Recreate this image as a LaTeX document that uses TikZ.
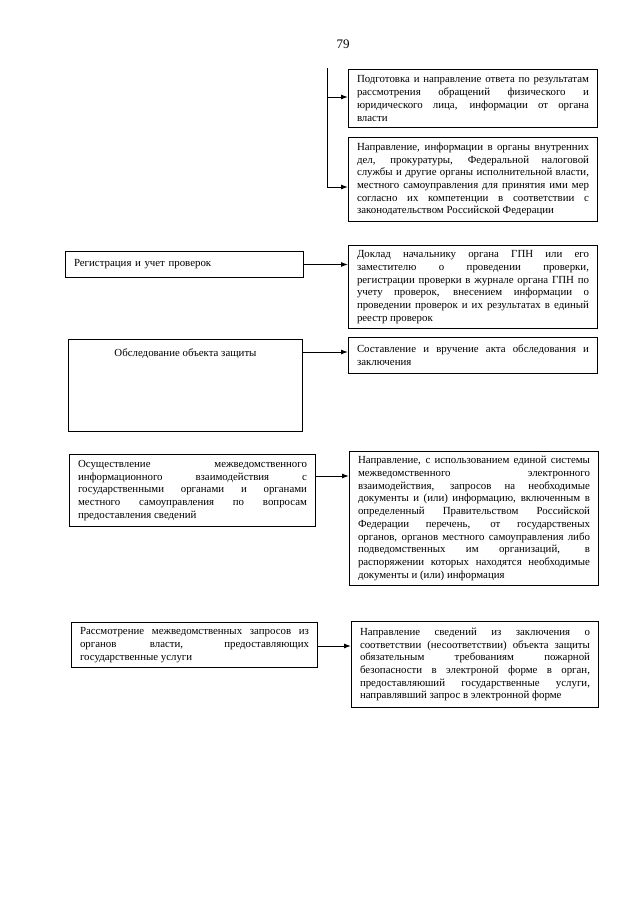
\documentclass[tikz,border=0pt]{standalone}
\usepackage{fontspec}
\setmainfont{Liberation Serif}
\usetikzlibrary{arrows.meta}
\tikzset{
  every node/.style={font=\fontsize{10.85}{12.7}\selectfont},
  box/.style={draw=black, line width=1pt, anchor=north west, inner xsep=8.5pt, inner ysep=3pt,
    align=justify, execute at begin node={\hyphenpenalty=10000\tolerance=10000\emergencystretch=20pt}},
  arr/.style={draw=black, line width=1pt, -{Latex[length=7pt,width=5pt]}},
  plain/.style={draw=black, line width=1pt}
}
\begin{document}
\begin{tikzpicture}[x=1pt,y=-1pt]
\useasboundingbox[fill=white] (0,0) rectangle (640,905);
\node[font=\fontsize{13}{15}\selectfont] (pg) at (343,44) {79};

\node[box, text width=232pt, minimum width=249pt, minimum height=58pt] (b1) at (348,69)
{Подготовка и направление ответа по результатам\linebreak
рассмотрения обращений физического и\linebreak
юридического лица, информации от органа\linebreak
власти};

\node[box, text width=232pt, minimum width=249pt, minimum height=84pt] (b2) at (348,137)
{Направление, информации в органы внутренних\linebreak
дел, прокуратуры, Федеральной налоговой\linebreak
службы и другие органы исполнительной власти,\linebreak
местного самоуправления для принятия ими мер\linebreak
согласно их компетенции в соответствии с\linebreak
законодательством Российской Федерации};

\coordinate (top) at (327,68);
\coordinate (j1) at (327,97);
\coordinate (j2) at (327,187);
\draw[plain] (top) -- (j2);
\draw[arr] (j1) -- (j1 -| b1.west);
\draw[arr] (j2) -- (j2 -| b2.west);

\node[box, align=left, text width=221pt, minimum width=238pt, minimum height=26pt] (b3) at (65,251)
{Регистрация и учет проверок};

\node[box, text width=232pt, minimum width=249pt, minimum height=83pt] (b4) at (348,245)
{Доклад начальнику органа ГПН или его\linebreak
заместителю о проведении проверки,\linebreak
регистрации проверки в журнале органа ГПН по\linebreak
учету проверок, внесением информации о\linebreak
проведении проверок и их результатах в единый\linebreak
реестр проверок};
\draw[arr] (b3.east) -- (b3.east -| b4.west);

\node[box, minimum width=234pt, minimum height=92pt] (b5) at (68,339) {};
\node[anchor=north] (b5t) at ([yshift=-6pt]b5.north) {Обследование объекта защиты};

\node[box, text width=232pt, minimum width=249pt, minimum height=36pt] (b6) at (348,337)
{Составление и вручение акта обследования и\linebreak
заключения};
\coordinate (a5) at (302,352);
\draw[arr] (a5) -- (a5 -| b6.west);

\node[box, text width=229pt, minimum width=246pt, minimum height=72pt] (b7) at (69,454)
{Осуществление межведомственного\linebreak
информационного взаимодействия с\linebreak
государственными органами и органами\linebreak
местного самоуправления по вопросам\linebreak
предоставления сведений};

\node[box, text width=232pt, minimum width=249pt, minimum height=134pt] (b8) at (349,451)
{Направление, с использованием единой системы\linebreak
межведомственного электронного\linebreak
взаимодействия, запросов на необходимые\linebreak
документы и (или) информацию, включенным в\linebreak
определенный Правительством Российской\linebreak
Федерации перечень, от государственых\linebreak
органов, органов местного самоуправления либо\linebreak
подведомственных им организаций, в\linebreak
распоряжении которых находятся необходимые\linebreak
документы и (или) информация};
\coordinate (a7) at (315,476);
\draw[arr] (a7) -- (a7 -| b8.west);

\node[box, text width=229pt, minimum width=246pt, minimum height=45pt] (b9) at (71,622)
{Рассмотрение межведомственных запросов из\linebreak
органов власти, предоставляющих\linebreak
государственные услуги};

\node[box, text width=230pt, minimum width=247pt, minimum height=86pt] (b10) at (351,621)
{Направление сведений из заключения о\linebreak
соответствии (несоответствии) объекта защиты\linebreak
обязательным требованиям пожарной\linebreak
безопасности в электроной форме в орган,\linebreak
предоставляюший государственные услуги,\linebreak
направлявший запрос в электронной форме};
\coordinate (a9) at (317,646);
\draw[arr] (a9) -- (a9 -| b10.west);
\end{tikzpicture}
\end{document}
